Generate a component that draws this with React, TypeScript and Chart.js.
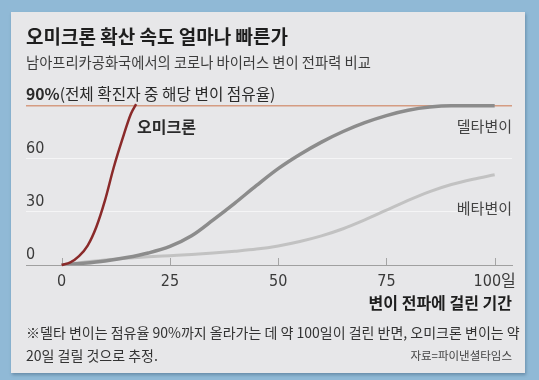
import React, { useEffect, useRef } from 'react';
import { Chart, registerables } from 'chart.js';

Chart.register(...registerables);

// ---- data ----
const omicronDays = [0, 2, 4, 6, 8, 10, 12, 14, 16, 17.2];
const omicronShare = [0, 1.5, 5, 11, 21.5, 36.5, 55, 71, 85.5, 91];
const variantDays = [0, 5, 10, 15, 20, 25, 30, 35, 40, 45, 50, 55, 60, 65, 70, 75, 80, 85, 90, 95, 100];
const deltaShare = [0, 1, 2.3, 4.2, 6.8, 10.5, 16.5, 25.5, 35, 45, 54.5, 62.5, 69.5, 75.5, 80.5, 84.5, 87.5, 89.3, 90, 90, 90];
const betaShare = [0, 1.5, 2.8, 3.8, 4.6, 5.3, 6, 6.8, 7.8, 9, 10.8, 13.3, 16.5, 20.5, 25.5, 31, 36.5, 41.5, 45.5, 48.5, 51];
const xTickValues = [0, 25, 50, 75, 100];
const yTickValues = [0, 30, 60, 90];
const xTickLabels = ['0', '25', '50', '75', '100일'];

const NUM_FONT = '"Liberation Sans Narrow", "DejaVu Sans Condensed", "Roboto", "Noto Sans CJK KR", sans-serif';
const KR_FONT = '"Noto Sans CJK KR", sans-serif';

const upTicks = {
  id: 'upTicks',
  beforeDatasetsDraw(chart: any) {
    const x = chart.scales.x;
    const ctx = chart.ctx;
    ctx.save();
    ctx.strokeStyle = '#a5a5a5';
    ctx.lineWidth = 1;
    xTickValues.forEach((v) => {
      const px = Math.round(x.getPixelForValue(v)) + 0.5;
      ctx.beginPath();
      ctx.moveTo(px, x.top);
      ctx.lineTo(px, x.top - 7);
      ctx.stroke();
    });
    ctx.restore();
  },
};

const toPts = (xs: number[], ys: number[]) => xs.map((d, i) => ({ x: d, y: ys[i] }));

function Txt(props: { x?: number; r?: number; y: number; size: number; bold?: boolean; color?: string; children: any; family?: string }) {
  const { x, r, y, size, bold, color, children, family } = props;
  const style: any = {
    position: 'absolute',
    top: y - 15,
    height: 30,
    lineHeight: '30px',
    fontSize: size,
    fontWeight: bold ? 700 : 400,
    color: color || '#333',
    whiteSpace: 'nowrap',
    fontFamily: family || KR_FONT,
  };
  if (r !== undefined) style.right = 539 - r;
  else style.left = x;
  return <div style={style}>{children}</div>;
}

export default function App() {
  const ref = useRef<HTMLCanvasElement>(null);
  useEffect(() => {
    const chart = new Chart(ref.current as HTMLCanvasElement, {
      type: 'line',
      data: {
        datasets: [
          {
            label: '오미크론',
            data: toPts(omicronDays, omicronShare),
            borderColor: '#8a2a2a',
            borderWidth: 2.5,
            pointRadius: 0,
            cubicInterpolationMode: 'monotone',
            clip: false,
          } as any,
          {
            label: '델타변이',
            data: toPts(variantDays, deltaShare),
            borderColor: '#8c8c8c',
            borderWidth: 3.5,
            pointRadius: 0,
            cubicInterpolationMode: 'monotone',
          },
          {
            label: '베타변이',
            data: toPts(variantDays, betaShare),
            borderColor: '#c2c2c2',
            borderWidth: 3,
            pointRadius: 0,
            cubicInterpolationMode: 'monotone',
          },
        ],
      },
      options: {
        responsive: false,
        animation: false,
        devicePixelRatio: 1,
        layout: { padding: { left: 26, right: 27, top: 97, bottom: 85 } },
        plugins: { legend: { display: false }, tooltip: { enabled: false } },
        scales: {
          x: {
            type: 'linear',
            min: -8.24,
            max: 104,
            afterBuildTicks: (s: any) => {
              s.ticks = xTickValues.map((v) => ({ value: v }));
            },
            afterFit: (s: any) => {
              s.height = 30;
            },
            grid: { display: false, drawTicks: false },
            border: { display: true, color: '#a0a0a0', width: 1 },
            ticks: {
              padding: 7,
              color: '#3a3a3a',
              font: { family: NUM_FONT, size: 16 },
              maxRotation: 0,
              callback: (v: any) => {
                const i = xTickValues.indexOf(Number(v));
                return i >= 0 ? xTickLabels[i] : '';
              },
            },
          },
          y: {
            min: 0,
            max: 95,
            afterBuildTicks: (s: any) => {
              s.ticks = yTickValues.map((v) => ({ value: v }));
            },
            afterFit: (s: any) => {
              s.width = 0;
            },
            border: { display: false },
            grid: {
              drawTicks: false,
              color: (c: any) =>
                c.tick && c.tick.value === 90
                  ? '#d59c82'
                  : c.tick && c.tick.value === 0
                  ? 'rgba(0,0,0,0)'
                  : 'rgba(255,255,255,0.6)',
              lineWidth: (c: any) => (c.tick && c.tick.value === 90 ? 1.5 : 1),
            },
            ticks: {
              mirror: true,
              padding: 0,
              labelOffset: -10.5,
              color: '#3a3a3a',
              font: { family: NUM_FONT, size: 16 },
              callback: (v: any) => (Number(v) === 90 ? '' : String(v)),
            },
          },
        },
      },
      plugins: [upTicks],
    });
    return () => chart.destroy();
  }, []);

  return (
    <div style={{ position: 'fixed', left: 0, top: 0, width: 539, height: 380, overflow: 'hidden', background: '#90b9d6' }}>
      <div
        style={{
          position: 'absolute',
          left: 11,
          top: 12,
          width: 514,
          height: 361,
          background: '#e7e7e9',
          boxShadow: '1px 2px 3px rgba(30,60,90,0.35)',
        }}
      />
      <canvas ref={ref} width={539} height={380} style={{ position: 'absolute', left: 0, top: 0, width: 539, height: 380 }} />
      <Txt x={26} y={36} size={19} bold color="#1e1e1e">오미크론 확산 속도 얼마나 빠른가</Txt>
      <Txt x={26} y={62} size={14.3} color="#3c3c3c">남아프리카공화국에서의 코로나 바이러스 변이 전파력 비교</Txt>
      <Txt x={26} y={94} size={15.7} color="#2a2a2a">
        <b>90%</b>(전체 확진자 중 해당 변이 점유율)
      </Txt>
      <Txt x={137} y={126} size={16} bold color="#2a2a2a">오미크론</Txt>
      <Txt r={512} y={126} size={15} color="#444">델타변이</Txt>
      <Txt r={512} y={208} size={15} color="#444">베타변이</Txt>
      <Txt r={512} y={302} size={16} bold color="#1e1e1e">변이 전파에 걸린 기간</Txt>
      <Txt x={26} y={332} size={14} color="#333">※델타 변이는 점유율 90%까지 올라가는 데 약 100일이 걸린 반면, 오미크론 변이는 약</Txt>
      <Txt x={26} y={355} size={14} color="#333">20일 걸릴 것으로 추정.</Txt>
      <Txt r={512} y={355} size={11.5} color="#444">자료=파이낸셜타임스</Txt>
    </div>
  );
}
